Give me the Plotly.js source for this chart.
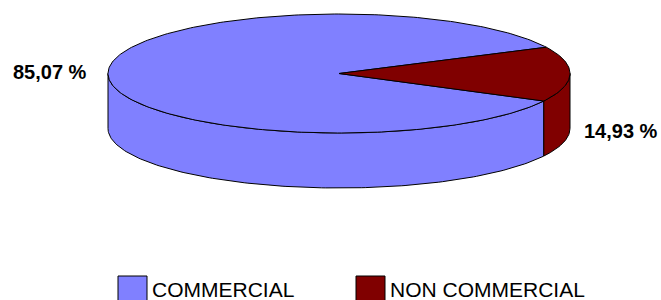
<!DOCTYPE html>
<html>
<head>
<meta charset="utf-8">
<script src="https://cdn.plot.ly/plotly-3.0.1.min.js"></script>
<style>html,body{margin:0;padding:0;background:#fff;}#chart{width:661px;height:300px;}</style>
</head>
<body>
<div id="chart"></div>
<script>
// ---- data ----
const categories = ['COMMERCIAL', 'NON COMMERCIAL'];
const shares = [85.07, 14.93];
const sliceColors = ['#8080FF', '#800000'];

// ---- geometry / style (pixels on a 661x300 canvas) ----
const W = 661, H = 300;
const cx = 339, cy = 73.5, rx = 231, ry = 59.5, depth = 55;
const startDeg = 26.2;          // where the first slice begins (counter-clockwise)
const labelPos = [[49.5, 72], [621, 131]];
const legendSquareX = [132.5, 370.5];
const legendTextX = [151, 389];
const legendY = 290.5;
const legendTextY = 289;
const FONT = 'Liberation Sans, Arial, sans-serif';

function fmtPct(v) { return v.toFixed(2).replace('.', ',') + ' %'; }

function arc(a, b, dy) {
  const xs = [], ys = [];
  const n = Math.max(2, Math.ceil(Math.abs(b - a) / 1.0));
  for (let i = 0; i <= n; i++) {
    const t = (a + (b - a) * i / n) * Math.PI / 180;
    xs.push(cx + rx * Math.cos(t));
    ys.push(cy - ry * Math.sin(t) + dy);
  }
  return [xs, ys];
}

const total = shares.reduce((s, v) => s + v, 0);
const ranges = [];
let acc = startDeg;
shares.forEach(v => { const span = 360 * v / total; ranges.push([acc, acc + span]); acc += span; });

const sideTraces = [], topTraces = [];
ranges.forEach(([a, b], i) => {
  // visible front side: where sin(t) <= 0
  for (let k = -1; k <= 1; k++) {
    const lo = Math.max(a, 180 + 360 * k), hi = Math.min(b, 360 + 360 * k);
    if (hi > lo) {
      const [tx, ty] = arc(lo, hi, 0);
      const [bx, by] = arc(hi, lo, depth);
      sideTraces.push({
        type: 'scatter', mode: 'lines', x: tx.concat(bx, [tx[0]]), y: ty.concat(by, [ty[0]]),
        fill: 'toself', fillcolor: sliceColors[i], line: {color: '#000', width: 1},
        hoverinfo: 'skip', showlegend: false
      });
    }
  }
  const [ax, ay] = arc(a, b, 0);
  topTraces.push({
    type: 'scatter', mode: 'lines', x: [cx].concat(ax, [cx]), y: [cy].concat(ay, [cy]),
    fill: 'toself', fillcolor: sliceColors[i], line: {color: '#000', width: 1},
    name: categories[i], text: categories[i] + ': ' + fmtPct(shares[i] / total * 100),
    hoverinfo: 'text', showlegend: false
  });
});

const legendTrace = {
  type: 'scatter', mode: 'markers', x: legendSquareX, y: categories.map(() => legendY),
  marker: {symbol: 'square', size: 29, color: sliceColors, line: {color: '#000', width: 1}},
  hoverinfo: 'skip', showlegend: false, cliponaxis: false
};

const annotations = [];
shares.forEach((v, i) => {
  annotations.push({
    x: labelPos[i][0], y: labelPos[i][1], xref: 'x', yref: 'y', showarrow: false,
    text: '<b>' + fmtPct(v / total * 100) + '</b>', font: {family: FONT, size: 20, color: '#000'},
    xanchor: 'center', yanchor: 'middle'
  });
  annotations.push({
    x: legendTextX[i], y: legendTextY, xref: 'x', yref: 'y', showarrow: false,
    text: categories[i], font: {family: FONT, size: 21, color: '#000'},
    xanchor: 'left', yanchor: 'middle', borderpad: 0
  });
});

Plotly.newPlot('chart', sideTraces.concat(topTraces, [legendTrace]), {
  width: W, height: H, margin: {l: 0, r: 0, t: 0, b: 0},
  paper_bgcolor: '#fff', plot_bgcolor: '#fff', showlegend: false,
  xaxis: {range: [0, W], visible: false, fixedrange: true},
  yaxis: {range: [H, 0], visible: false, fixedrange: true},
  annotations: annotations, hovermode: 'closest'
}, {displayModeBar: false, staticPlot: false});
</script>
</body>
</html>
